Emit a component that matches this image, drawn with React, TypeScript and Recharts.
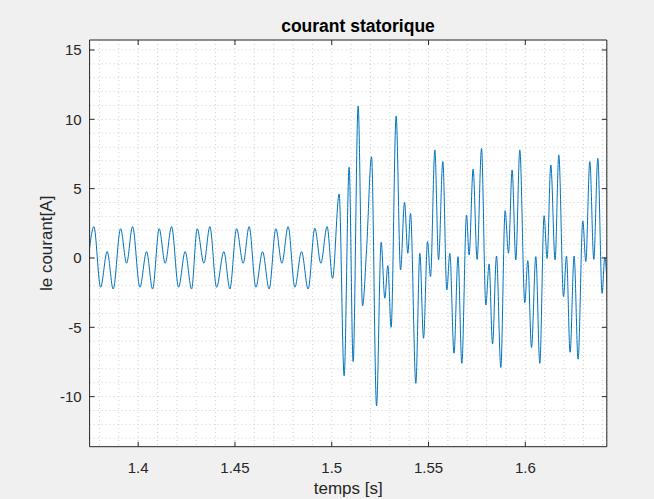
import { CartesianGrid, Line, LineChart, XAxis, YAxis } from "recharts"

// time [s] of each turning point of the stator current
const TIME = [
  1.37402, 1.37712, 1.38058, 1.38399, 1.38709, 1.39091, 1.39401, 1.39711,
  1.40088, 1.40434, 1.40744, 1.41085, 1.41395, 1.41725,
  1.42087, 1.42428, 1.42758, 1.43048, 1.43394, 1.43704,
  1.4405, 1.44427, 1.44737, 1.45083, 1.45424, 1.45733,
  1.4608, 1.46426, 1.46767, 1.47113, 1.47423, 1.47748,
  1.48094, 1.4844, 1.48781, 1.49127, 1.49437, 1.49762,
  1.50041, 1.50382, 1.5064, 1.50899, 1.51105, 1.51364, 1.51591, 1.51798, 1.52056, 1.52314,
  1.52552, 1.52743, 1.52898, 1.53068, 1.53326, 1.53554, 1.5376, 1.53931, 1.5407, 1.54344,
  1.54551, 1.54742, 1.54948, 1.55103, 1.55326, 1.55517, 1.55739, 1.55945, 1.56101, 1.56317,
  1.56524, 1.5672, 1.56963, 1.57097, 1.57304, 1.5751, 1.57738, 1.5796, 1.5813, 1.58306,
  1.58512, 1.58735, 1.58957, 1.59132, 1.59318, 1.59509, 1.59716, 1.59974, 1.60129, 1.6032,
  1.60543, 1.60749, 1.60971, 1.61126, 1.61317, 1.61539, 1.6173, 1.61973, 1.62128, 1.62314,
  1.62521, 1.62727, 1.6297, 1.63125, 1.63332, 1.63538, 1.63745, 1.63967, 1.64106, 1.64339,
]

// current [A] at those instants
const CURRENT = [
  -0.38, 2.26, -2.11, 0.46, -2.24, 2.11, -0.38, 2.26,
  -2.11, 0.46, -2.24, 2.11, -0.38, 2.26,
  -2.11, 0.46, -2.24, 2.11, -0.38, 2.26,
  -2.11, 0.46, -2.24, 2.11, -0.38, 2.26,
  -2.11, 0.46, -2.24, 2.11, -0.38, 2.26,
  -2.11, 0.46, -2.24, 2.14, -0.38, 2.26,
  -1.47, 4.61, -8.5, 6.54, -7.47, 10.96, -3.46, 0.58, 7.3, -10.67,
  1.13, -2.9, -0.55, -5.0, 10.24, -0.87, 4.01, 0.34, 3.22, -9.04,
  0.34, -5.79, 1.18, -1.35, 7.79, -0.14, 6.95, -2.31, 0.34, -6.87,
  0.1, -7.6, 3.1, 0.22, 6.4, -0.1, 7.9, -3.39, -0.43, -6.2,
  0.14, -7.9, 3.41, 0.34, 6.34, -0.14, 7.79, -3.22, -0.19, -6.46,
  0.1, -7.6, 3.05, -0.03, 6.71, -0.14, 7.43, -2.79, 0.14, -6.8,
  0.14, -7.3, 2.67, -0.26, 6.95, -0.1, 7.19, -2.55, 0.05, -6.4,
]

// grid every 0.01 s / 1 A, labels only on the major ones
const X_TICKS = [
  1.38, 1.39, 1.4, 1.41, 1.42, 1.43, 1.44, 1.45, 1.46, 1.47, 1.48, 1.49, 1.5,
  1.51, 1.52, 1.53, 1.54, 1.55, 1.56, 1.57, 1.58, 1.59, 1.6, 1.61, 1.62, 1.63, 1.64,
]
const X_MAJOR = [1.4, 1.45, 1.5, 1.55, 1.6]
const Y_TICKS = [
  -13, -12, -11, -10, -9, -8, -7, -6, -5, -4, -3, -2, -1, 0, 1, 2, 3, 4, 5, 6, 7,
  8, 9, 10, 11, 12, 13, 14, 15,
]
const Y_MAJOR = [-10, -5, 0, 5, 10, 15]

const data = TIME.map((t, k) => ({ t, i: CURRENT[k] }))

const INK = "#262626"
const FONT = "'Liberation Sans', Arial, Helvetica, sans-serif"
const isMajor = (list: number[], v: number) => list.some((m) => Math.abs(m - v) < 1e-9)

const BottomTick = (props: any) => {
  const { x, y, payload } = props
  if (!isMajor(X_MAJOR, payload.value)) return <g />
  return (
    <g>
      <line x1={x} y1={y} x2={x} y2={y - 5} stroke={INK} />
      <text x={x} y={y + 26} textAnchor="middle" fill={INK} fontSize={15} fontFamily={FONT}>
        {String(payload.value)}
      </text>
    </g>
  )
}

const TopTick = (props: any) => {
  const { x, y, payload } = props
  if (!isMajor(X_MAJOR, payload.value)) return <g />
  return <line x1={x} y1={y} x2={x} y2={y + 5} stroke={INK} />
}

const LeftTick = (props: any) => {
  const { x, y, payload } = props
  if (!isMajor(Y_MAJOR, payload.value)) return <g />
  return (
    <g>
      <line x1={x} y1={y} x2={x + 5} y2={y} stroke={INK} />
      <text x={x - 8} y={y} dy="0.36em" textAnchor="end" fill={INK} fontSize={15} fontFamily={FONT}>
        {String(payload.value)}
      </text>
    </g>
  )
}

const RightTick = (props: any) => {
  const { x, y, payload } = props
  if (!isMajor(Y_MAJOR, payload.value)) return <g />
  return <line x1={x} y1={y} x2={x - 5} y2={y} stroke={INK} />
}

const X_DOMAIN: [number, number] = [1.3749, 1.6421]
const Y_DOMAIN: [number, number] = [-13.61, 15.72]

export default function App() {
  return (
    <div
      style={{
        position: "absolute",
        left: 0,
        top: 0,
        width: 654,
        height: 499,
        background: "#f0f0f0",
        fontFamily: FONT,
      }}
    >
      <div
        style={{
          position: "absolute",
          left: 258,
          width: 200,
          top: 17.7,
          lineHeight: "17.5px",
          fontSize: 17.5,
          fontWeight: "bold",
          textAlign: "center",
          color: "#000",
        }}
      >
        courant statorique
      </div>
      <LineChart
        width={654}
        height={499}
        data={data}
        margin={{ top: 39, right: 46.2, bottom: 0, left: 0 }}
      >
        <CartesianGrid
          fill="#ffffff"
          fillOpacity={1}
          stroke="#cfcfcf"
          strokeDasharray="1 3"
        />
        <XAxis
          dataKey="t"
          type="number"
          domain={X_DOMAIN}
          allowDataOverflow
          ticks={X_TICKS}
          interval={0}
          height={52.3}
          tickSize={0}
          tickMargin={0}
          tickLine={false}
          tick={<BottomTick />}
          axisLine={{ stroke: INK }}
          label={{
            value: "temps [s]",
            position: "insideBottom",
            offset: 5,
            fill: INK,
            fontSize: 17,
            fontFamily: FONT,
          }}
        />
        <XAxis
          xAxisId="top"
          orientation="top"
          dataKey="t"
          type="number"
          domain={X_DOMAIN}
          allowDataOverflow
          ticks={X_TICKS}
          interval={0}
          height={1}
          tickSize={0}
          tickMargin={0}
          tickLine={false}
          tick={<TopTick />}
          axisLine={{ stroke: INK }}
        />
        <YAxis
          type="number"
          domain={Y_DOMAIN}
          allowDataOverflow
          ticks={Y_TICKS}
          interval={0}
          width={89.6}
          tickSize={0}
          tickMargin={0}
          tickLine={false}
          tick={<LeftTick />}
          axisLine={{ stroke: INK }}
          label={{
            value: "le courant[A]",
            angle: -90,
            position: "insideLeft",
            offset: 46,
            fill: INK,
            fontSize: 17,
            fontFamily: FONT,
            style: { textAnchor: "middle" },
          }}
        />
        <YAxis
          yAxisId="right"
          orientation="right"
          type="number"
          domain={Y_DOMAIN}
          allowDataOverflow
          ticks={Y_TICKS}
          interval={0}
          width={1}
          tickSize={0}
          tickMargin={0}
          tickLine={false}
          tick={<RightTick />}
          axisLine={{ stroke: INK }}
        />
        {/* invisible copy so the top/right frame axes get a series */}
        <Line
          xAxisId="top"
          yAxisId="right"
          dataKey="i"
          stroke="none"
          dot={false}
          activeDot={false}
          isAnimationActive={false}
        />
        <Line
          dataKey="i"
          type="monotone"
          stroke="#0072BD"
          strokeWidth={1}
          dot={false}
          activeDot={false}
          isAnimationActive={false}
        />
      </LineChart>
    </div>
  )
}
